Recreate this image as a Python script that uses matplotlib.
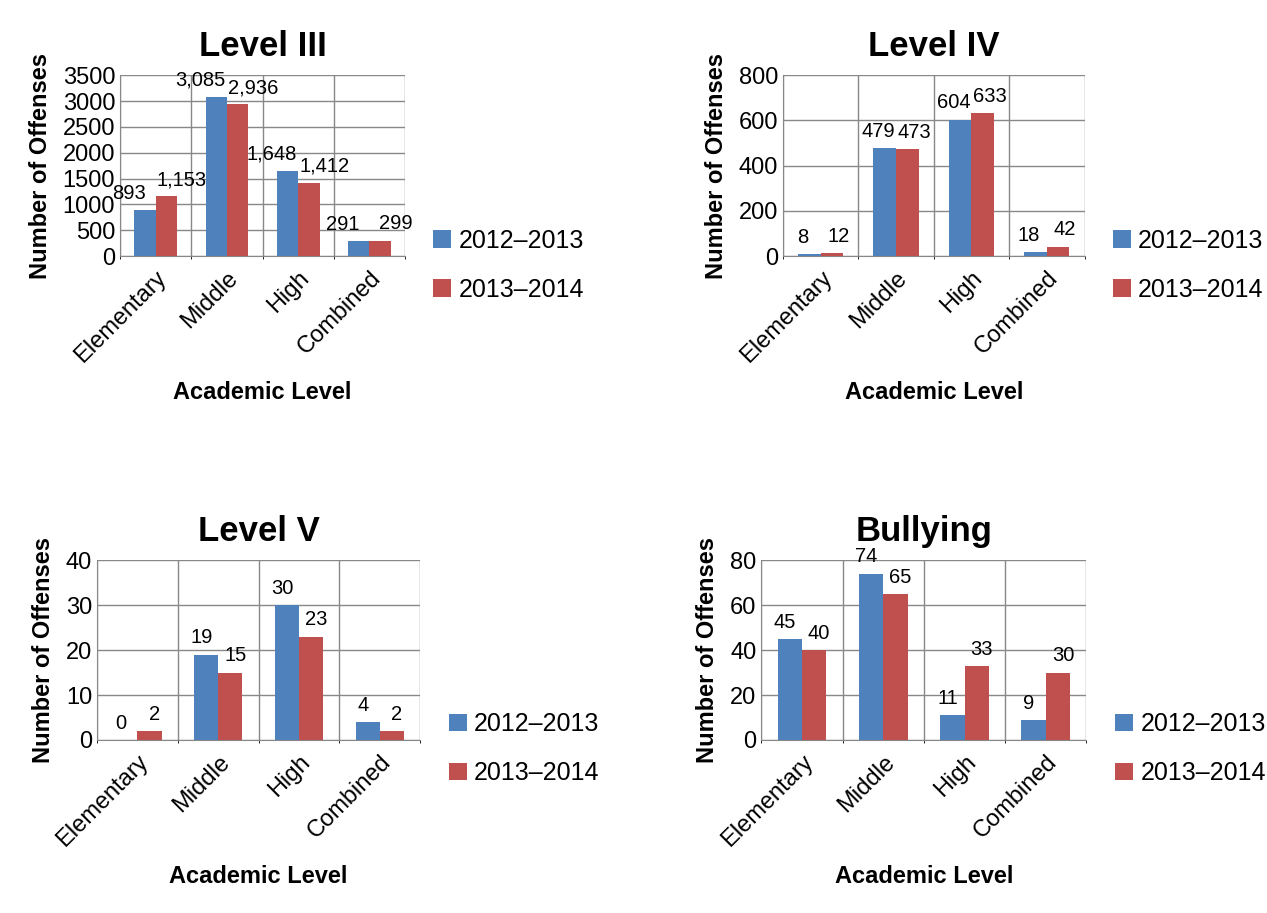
import matplotlib
matplotlib.use("Agg")
import matplotlib.pyplot as plt
import numpy as np

categories = ["Elementary", "Middle", "High", "Combined"]
series_names = ["2012–2013", "2013–2014"]
titles = ["Level III", "Level IV", "Level V", "Bullying"]
s2012 = [[893, 3085, 1648, 291], [8, 479, 604, 18], [0, 19, 30, 4], [45, 74, 11, 9]]
s2013 = [[1153, 2936, 1412, 299], [12, 473, 633, 42], [2, 15, 23, 2], [40, 65, 33, 30]]
ylims = [3500, 800, 40, 80]
ysteps = [500, 200, 10, 20]
label_offsets = [0.22, 0.09, 0.06, 0.06]

colors = ["#4F81BD", "#C0504D"]
plt.rcParams['font.family'] = ['Liberation Sans', 'DejaVu Sans']
fig = plt.figure(figsize=(12.67, 9.13), dpi=100)
rects = [(0.0947, 0.7196, 0.225, 0.198), (0.618, 0.7196, 0.238, 0.198),
         (0.0766, 0.1895, 0.255, 0.197), (0.601, 0.1895, 0.2565, 0.197)]
for i in range(4):
    ax = fig.add_axes(rects[i])
    x = np.arange(4)
    w = 0.3
    off = label_offsets[i]
    for j, vals in enumerate([s2012[i], s2013[i]]):
        bars = ax.bar(x + (j - 0.5) * w, vals, w, color=colors[j], label=series_names[j], zorder=3)
        for b, v in zip(bars, vals):
            ax.text(b.get_x() + b.get_width() / 2 + (-off if j == 0 else off), v + ylims[i] * 0.04,
                    f"{v:,}", ha="center", va="bottom", fontsize=14.5)
    ax.set_xlim(-0.5, 3.5)
    ax.set_ylim(0, ylims[i])
    ax.set_yticks(np.arange(0, ylims[i] + 1, ysteps[i]))
    ax.set_xticks(x)
    ax.set_xticklabels(categories, rotation=45, ha="right", rotation_mode="anchor", fontsize=17)
    ax.tick_params(axis='y', labelsize=17, length=0)
    ax.tick_params(axis='x', length=0, pad=8)
    ax.set_xticks(np.arange(-0.5, 4, 1), minor=True)
    ax.grid(axis='y', color='#888888', lw=1, zorder=0)
    ax.grid(axis='x', which='minor', color='#888888', lw=1, zorder=0)
    for s in ['top', 'right']:
        ax.spines[s].set_visible(False)
    ax.spines['left'].set_color('#888888')
    ax.spines['bottom'].set_color('#888888')
    ax.set_title(titles[i], fontsize=25, fontweight='bold', pad=14)
    ax.set_ylabel("Number of Offenses", fontsize=17, fontweight='bold', labelpad=8)
    ax.set_xlabel("Academic Level", fontsize=17, fontweight='bold', labelpad=10)
    ax.legend(loc='center left', bbox_to_anchor=(1.02, -0.05), frameon=False, fontsize=18,
              handlelength=0.7, handleheight=0.7, handletextpad=0.3, labelspacing=1.0)
fig.savefig("out.png", dpi=100)
